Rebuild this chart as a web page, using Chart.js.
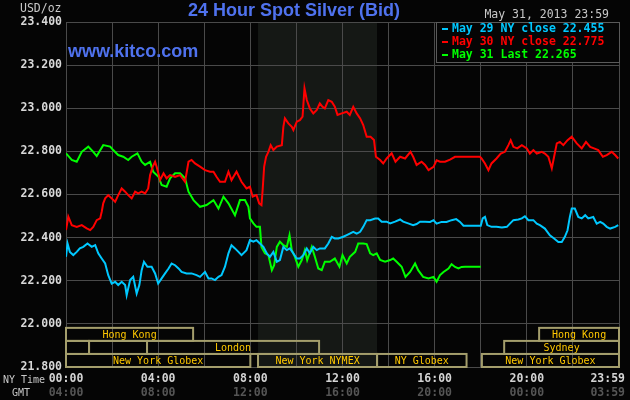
<!DOCTYPE html>
<html>
<head>
<meta charset="utf-8">
<script src="https://cdn.jsdelivr.net/npm/chart.js@4.4.1/dist/chart.umd.min.js"></script>
<style>
  html, body { margin: 0; padding: 0; background: #050505; }
  canvas { display: block; }
</style>
</head>
<body>
<canvas id="silverChart" width="630" height="400"></canvas>
<script>
// minutes after 00:00 NY time, bid in USD/oz
const may29Min = [0, 4, 10, 19, 28, 36, 45, 56, 67, 76, 84, 93, 102, 110, 119, 128, 136, 145, 154, 158, 167, 175, 184, 191, 197, 203, 212, 223, 232, 240, 249, 258, 267, 275, 284, 293, 301, 314, 327, 340, 349, 362, 371, 379, 388, 397, 405, 414, 423, 431, 440, 449, 457, 470,
  479, 488, 496, 505, 514, 523, 531, 540, 549, 557, 566, 575, 583, 592, 601, 609, 618, 627, 635, 644, 653, 661, 674, 683, 692, 700, 709, 722, 731, 739, 748, 757, 766, 774, 783, 792, 805, 813, 822, 835, 844, 857, 870, 878, 891, 904, 913, 922, 935,
  948, 957, 965, 978, 991, 1004, 1016, 1026, 1035, 1080, 1085, 1091, 1097, 1108, 1121, 1135, 1148, 1156, 1165, 1178, 1187, 1195, 1204, 1217, 1226, 1234, 1247, 1260, 1271, 1282, 1291, 1299, 1306, 1312, 1317, 1325, 1334, 1343, 1352, 1360, 1373, 1382, 1391, 1399, 1408, 1417, 1430, 1438];
const may29Val = [22.311, 22.373, 22.334, 22.319, 22.334, 22.350, 22.357, 22.373, 22.357, 22.365, 22.327, 22.303, 22.280, 22.226, 22.187, 22.195, 22.180, 22.195, 22.180, 22.133, 22.203, 22.218, 22.141, 22.180, 22.249, 22.288, 22.265, 22.265, 22.234, 22.187, 22.211, 22.234, 22.257, 22.280, 22.272, 22.257, 22.241, 22.234, 22.234, 22.226, 22.218, 22.241, 22.211, 22.211, 22.203, 22.218, 22.226, 22.265, 22.327, 22.365, 22.350, 22.334, 22.319, 22.342,
  22.388, 22.381, 22.388, 22.373, 22.357, 22.327, 22.311, 22.334, 22.288, 22.296, 22.357, 22.342, 22.350, 22.327, 22.303, 22.303, 22.319, 22.350, 22.327, 22.357, 22.342, 22.350, 22.350, 22.373, 22.404, 22.396, 22.396, 22.404, 22.412, 22.419, 22.427, 22.419, 22.427, 22.450, 22.481, 22.481, 22.489, 22.489, 22.474, 22.474, 22.466, 22.474, 22.484, 22.474, 22.466, 22.458, 22.463, 22.474, 22.474,
  22.473, 22.481, 22.465, 22.473, 22.473, 22.481, 22.486, 22.473, 22.455, 22.455, 22.489, 22.496, 22.458, 22.450, 22.450, 22.447, 22.450, 22.465, 22.481, 22.484, 22.489, 22.499, 22.481, 22.481, 22.465, 22.458, 22.442, 22.411, 22.396, 22.380, 22.380, 22.404, 22.434, 22.496, 22.535, 22.535, 22.496, 22.489, 22.504, 22.489, 22.496, 22.465, 22.473, 22.465, 22.450, 22.442, 22.450, 22.458];

const may30Min = [0, 6, 15, 28, 41, 54, 63, 71, 80, 89, 93, 97, 102, 110, 119, 128, 136, 145, 154, 162, 171, 180, 188, 197, 206, 214, 219, 226, 232, 236, 245, 254, 262, 271, 284, 297, 310, 319, 327, 336, 349, 362, 375, 384, 392, 401, 414, 423, 431, 444, 457, 470,
  479, 486, 496, 503, 509, 512, 516, 521, 527, 533, 540, 549, 562, 566, 570, 579, 588, 592, 601, 609, 616, 621, 627, 635, 644, 653, 661, 668, 674, 683, 692, 700, 707, 718, 731, 739, 748, 757, 766, 774, 783, 793, 802, 807, 818, 826, 835, 848, 858, 870, 883, 897, 904, 913, 926, 935, 944,
  957, 965, 974, 987, 1000, 1013, 1026, 1078, 1082, 1091, 1100, 1108, 1121, 1132, 1143, 1152, 1158, 1165, 1175, 1187, 1200, 1208, 1217, 1226, 1239, 1247, 1256, 1265, 1271, 1278, 1286, 1295, 1306, 1317, 1330, 1343, 1354, 1365, 1375, 1386, 1398, 1408, 1421, 1430, 1438];
const may30Val = [22.435, 22.497, 22.458, 22.450, 22.458, 22.443, 22.435, 22.450, 22.481, 22.489, 22.520, 22.559, 22.582, 22.597, 22.582, 22.566, 22.597, 22.628, 22.613, 22.597, 22.582, 22.613, 22.605, 22.613, 22.605, 22.628, 22.690, 22.729, 22.752, 22.729, 22.667, 22.698, 22.675, 22.690, 22.682, 22.690, 22.659, 22.752, 22.760, 22.744, 22.729, 22.713, 22.706, 22.706, 22.682, 22.659, 22.659, 22.706, 22.667, 22.706, 22.659, 22.628,
  22.636, 22.590, 22.597, 22.559, 22.551, 22.620, 22.729, 22.775, 22.798, 22.829, 22.806, 22.822, 22.829, 22.914, 22.953, 22.930, 22.914, 22.899, 22.938, 22.945, 22.961, 23.092, 23.038, 22.999, 22.976, 22.992, 23.023, 23.007, 22.999, 23.038, 23.030, 23.007, 22.969, 22.976, 22.984, 22.969, 23.007, 22.976, 22.953, 22.922, 22.868, 22.868, 22.853, 22.775, 22.760, 22.744, 22.767, 22.791, 22.752, 22.775, 22.767, 22.798, 22.775, 22.737, 22.752, 22.737, 22.713,
  22.728, 22.759, 22.752, 22.752, 22.762, 22.775, 22.775, 22.775, 22.767, 22.744, 22.713, 22.744, 22.767, 22.790, 22.798, 22.829, 22.852, 22.821, 22.814, 22.829, 22.814, 22.790, 22.806, 22.790, 22.798, 22.790, 22.775, 22.721, 22.775, 22.837, 22.844, 22.829, 22.852, 22.868, 22.837, 22.814, 22.844, 22.821, 22.814, 22.806, 22.775, 22.783, 22.798, 22.783, 22.767];

const may31Min = [0, 15, 28, 41, 58, 71, 80, 97, 115, 123, 136, 149, 162, 171, 186, 197, 206, 219, 227, 241, 249, 262, 271, 284, 297, 310, 319, 332, 349, 366, 384, 397, 410, 423, 440, 453, 466, 475,
  479, 488, 496, 505, 509, 518, 527, 536, 542, 549, 557, 566, 575, 582, 588, 596, 605, 614, 622, 628, 640, 648, 657, 666, 674, 687, 700, 712, 720, 731, 739, 753, 761, 774, 783, 792, 800, 809, 818, 831, 844, 852, 861, 874, 884, 896, 909, 917, 930, 944,
  957, 965, 974, 983, 996, 1004, 1013, 1022, 1030, 1039, 1080];
const may31Val = [22.791, 22.760, 22.752, 22.798, 22.822, 22.798, 22.778, 22.829, 22.822, 22.806, 22.783, 22.775, 22.760, 22.775, 22.791, 22.752, 22.737, 22.752, 22.706, 22.682, 22.644, 22.636, 22.675, 22.698, 22.698, 22.675, 22.613, 22.574, 22.543, 22.551, 22.574, 22.535, 22.590, 22.559, 22.504, 22.574, 22.574, 22.543,
  22.489, 22.466, 22.450, 22.450, 22.357, 22.327, 22.319, 22.249, 22.272, 22.357, 22.381, 22.365, 22.357, 22.412, 22.342, 22.311, 22.265, 22.296, 22.342, 22.296, 22.357, 22.311, 22.257, 22.249, 22.288, 22.288, 22.303, 22.265, 22.319, 22.280, 22.311, 22.334, 22.373, 22.373, 22.370, 22.327, 22.319, 22.327, 22.296, 22.288, 22.296, 22.303, 22.288, 22.265, 22.218, 22.241, 22.280, 22.249, 22.218, 22.211,
  22.218, 22.195, 22.226, 22.241, 22.257, 22.277, 22.264, 22.257, 22.264, 22.265, 22.265];

const seriesNames = ['May 29 NY close', 'May 30 NY close', 'May 31 Last'];
const seriesLast = ['22.455', '22.775', '22.265'];
const seriesColors = ['#00c8ff', '#ff0000', '#00ff00'];

// time axis labels
const tickMinutes = [0, 240, 480, 720, 960, 1200, 1440];
const nyLabels = ['00:00', '04:00', '08:00', '12:00', '16:00', '20:00', '23:59'];
const gmtLabels = ['04:00', '08:00', '12:00', '16:00', '20:00', '00:00', '03:59'];

// NYMEX pit hours (shaded)
const pitOpen = 500;
const pitClose = 810;

// market sessions, row 0 = top
const sessionRow = [0, 0, 1, 1, 1, 1, 2, 2, 2, 2];
const sessionStart = [0, 1232, 0, 60, 211, 1141, 0, 500, 810, 1083];
const sessionEnd = [331, 1440, 60, 211, 659, 1440, 480, 810, 1043, 1440];
const sessionName = ['Hong Kong', 'Hong Kong', '', '', 'London', 'Sydney', 'New York Globex', 'New York NYMEX', 'NY Globex', 'New York Globex'];

const MONO = '"DejaVu Sans Mono", monospace';

const toPoints = (mins, vals) => mins.map((m, i) => ({ x: m, y: vals[i] }));
const seriesData = [toPoints(may29Min, may29Val), toPoints(may30Min, may30Val), toPoints(may31Min, may31Val)];

const kitcoPlugin = {
  id: 'kitco',
  beforeDraw(chart) {
    const { ctx, chartArea: a, scales: { x } } = chart;
    ctx.save();
    ctx.fillStyle = '#050505';
    ctx.fillRect(0, 0, chart.width, chart.height);
    ctx.fillStyle = '#151815';
    const x0 = x.getPixelForValue(pitOpen), x1 = x.getPixelForValue(pitClose);
    ctx.fillRect(x0, a.top, x1 - x0, a.bottom - a.top);
    ctx.restore();
  },
  afterDraw(chart) {
    const { ctx, chartArea: a, scales: { x, y } } = chart;
    ctx.save();

    // session boxes
    const top = y.getPixelForValue(22.0) + 4;
    const rowH = (a.bottom - top) / 3;
    ctx.strokeStyle = '#a49e6c';
    ctx.lineWidth = 2;
    ctx.font = '10px ' + MONO;
    ctx.textAlign = 'center';
    ctx.textBaseline = 'middle';
    for (let i = 0; i < sessionRow.length; i++) {
      const bx0 = x.getPixelForValue(sessionStart[i]);
      const bx1 = x.getPixelForValue(sessionEnd[i]);
      const by = top + sessionRow[i] * rowH;
      ctx.strokeRect(bx0, by, bx1 - bx0, rowH);
      if (sessionName[i]) {
        ctx.fillStyle = '#ffc800';
        ctx.fillText(sessionName[i], (bx0 + bx1) / 2, by + rowH / 2 + 1);
      }
    }

    // time labels
    ctx.font = 'bold 11.5px ' + MONO;
    for (let i = 0; i < tickMinutes.length; i++) {
      const px = x.getPixelForValue(tickMinutes[i]);
      const last = i === tickMinutes.length - 1;
      ctx.textAlign = last ? 'right' : 'center';
      const tx = last ? px + 6 : px;
      ctx.fillStyle = '#d4d4d4';
      ctx.fillText(nyLabels[i], tx, 379);
      ctx.fillStyle = '#555555';
      ctx.fillText(gmtLabels[i], tx, 393);
    }
    ctx.font = '10px ' + MONO;
    ctx.fillStyle = '#c8c8c8';
    ctx.textAlign = 'left';
    ctx.fillText('NY Time', 3, 380);
    ctx.fillText('GMT', 12, 393);

    // header texts
    ctx.font = '11.5px ' + MONO;
    ctx.fillText('USD/oz', 20, 9);
    ctx.textAlign = 'right';
    ctx.fillText('May 31, 2013 23:59', 609, 15);

    ctx.fillStyle = '#4f72ee';
    ctx.textAlign = 'center';
    ctx.font = 'bold 18px "Liberation Sans", Arial, sans-serif';
    ctx.fillText('24 Hour Spot Silver (Bid)', 294, 11);
    ctx.textAlign = 'left';
    ctx.textBaseline = 'alphabetic';
    ctx.fillText('www.kitco.com', 68, 57);

    // legend box
    const lx = 436, ly = a.top, lw = a.right - 436, lh = 40;
    ctx.fillStyle = '#050505';
    ctx.fillRect(lx, ly, lw, lh);
    ctx.strokeStyle = '#5a5a5a';
    ctx.lineWidth = 1;
    ctx.strokeRect(lx + 0.5, ly + 0.5, lw, lh);
    ctx.font = 'bold 11.5px ' + MONO;
    ctx.textBaseline = 'middle';
    for (let i = 0; i < seriesNames.length; i++) {
      const cy = ly + 7 + i * 13;
      ctx.fillStyle = seriesColors[i];
      ctx.fillRect(442, cy - 1, 6, 2);
      ctx.fillText(seriesNames[i] + ' ' + seriesLast[i], 452, cy);
    }
    ctx.restore();
  }
};

new Chart(document.getElementById('silverChart'), {
  type: 'line',
  data: {
    datasets: seriesNames.map((name, i) => ({
      label: name,
      data: seriesData[i],
      borderColor: seriesColors[i],
      borderWidth: 2,
      pointRadius: 0,
      tension: 0,
      fill: false
    }))
  },
  options: {
    responsive: false,
    animation: false,
    devicePixelRatio: 1,
    layout: { padding: { top: 22, right: 11, left: 0, bottom: 0 } },
    plugins: { legend: { display: false }, tooltip: { enabled: false } },
    scales: {
      x: {
        type: 'linear',
        min: 0,
        max: 1440,
        ticks: { display: false, stepSize: 120, autoSkip: false },
        grid: { color: '#4a4a4a', drawTicks: false },
        border: { color: '#4a4a4a' },
        afterFit: (s) => { s.height = 33; s.paddingLeft = 0; s.paddingRight = 0; }
      },
      y: {
        min: 21.8,
        max: 23.4,
        ticks: {
          stepSize: 0.2,
          padding: 4,
          color: '#d8d8d8',
          font: { family: MONO, size: 11.5, weight: 'bold' },
          callback: (v) => Number(v).toFixed(3)
        },
        grid: { color: '#4a4a4a', drawTicks: false },
        border: { color: '#4a4a4a' },
        afterFit: (s) => { s.width = 66; }
      }
    }
  },
  plugins: [kitcoPlugin]
});
</script>
</body>
</html>
